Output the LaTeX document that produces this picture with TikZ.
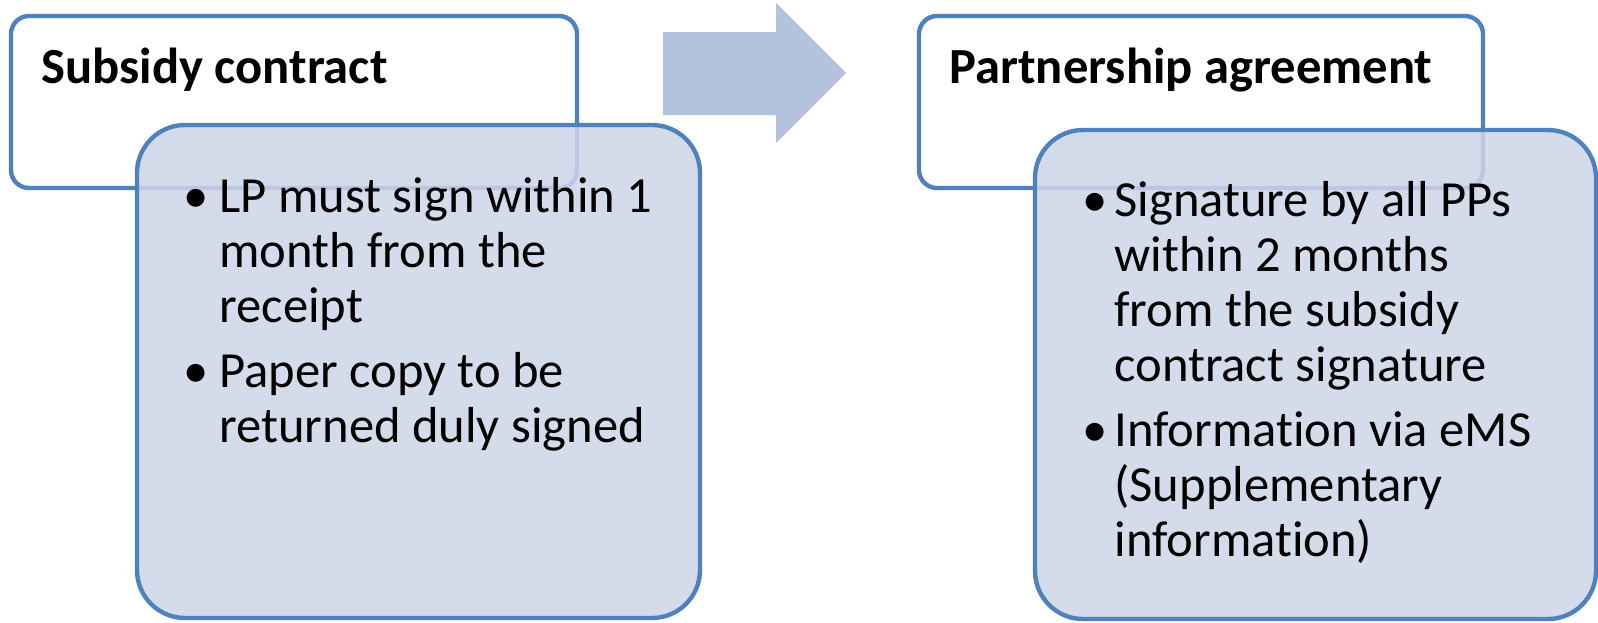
\documentclass[tikz,border=0pt]{standalone}
\usepackage{fontspec}
\setmainfont{Carlito}[Ligatures=NoCommon]
\usetikzlibrary{positioning}
\definecolor{frame}{HTML}{4F81BD}
\definecolor{panel}{RGB}{204,213,231}
\definecolor{flow}{RGB}{179,194,221}

\begin{document}
\begin{tikzpicture}[x=0.5pt, y=-0.5pt,
  hd/.style={rectangle, draw=frame, line width=2.2pt, fill=white, rounded corners=9pt, minimum width=#1, minimum height=86pt, inner sep=0pt},
  bd/.style={rectangle, draw=frame, line width=2.2pt, fill=panel, fill opacity=0.85, rounded corners=24pt, minimum width=#1, inner sep=0pt},
  ttl/.style={anchor=base west, inner sep=0pt, font=\fontsize{25.3}{27.5}\selectfont\bfseries},
  txt/.style={anchor=base west, inner sep=0pt, font=\fontsize{25.3}{27.5}\selectfont},
  bul/.style={anchor=base west, inner sep=0pt, font=\fontsize{25.3}{27.5}\selectfont}
]
  \useasboundingbox (0,0) rectangle (1598,622);
  % heading boxes
  \node[hd=283pt] (subbox)  at (294,102)  {};
  \node[hd=282pt] (partbox) at (1201,102) {};
  % flow arrow
  \fill[flow] (663,32) -- (776,32) -- (776,3) -- (846,73) -- (776,143) -- (776,115) -- (663,115) -- cycle;
  % detail panels
  \node[bd=281.5pt, minimum height=246.5pt] (subpanel)  at (418.5,371.5)  {};
  \node[bd=280.5pt, minimum height=244.5pt] (partpanel) at (1315.5,374.5) {};
  % titles
  \node[ttl] (subttl)  at (41,83)  {Subsidy contract};
  \node[ttl] (partttl) at (949,83) {Partnership agreement};
  % left bullets
  \node[bul] (sb1) at (183,212) {•};
  \node[txt] (st1) at (219,212) {\vtop{\hbox{LP must sign within 1}\hbox{month from the}\hbox{receipt}}};
  \node[bul] (sb2) at (183,387) {•};
  \node[txt] (st2) at (219,387) {\vtop{\hbox{Paper copy to be}\hbox{returned duly signed}}};
  % right bullets
  \node[bul] (pb1) at (1082,216) {•};
  \node[txt] (pt1) at (1114,216) {\vtop{\hbox{Signature by all PPs}\hbox{within 2 months}\hbox{from the subsidy}\hbox{contract signature}}};
  \node[bul] (pb2) at (1082,446) {•};
  \node[txt] (pt2) at (1114,446) {\vtop{\hbox{Information via eMS}\hbox{(Supplementary}\hbox{information)}}};
\end{tikzpicture}
\end{document}
